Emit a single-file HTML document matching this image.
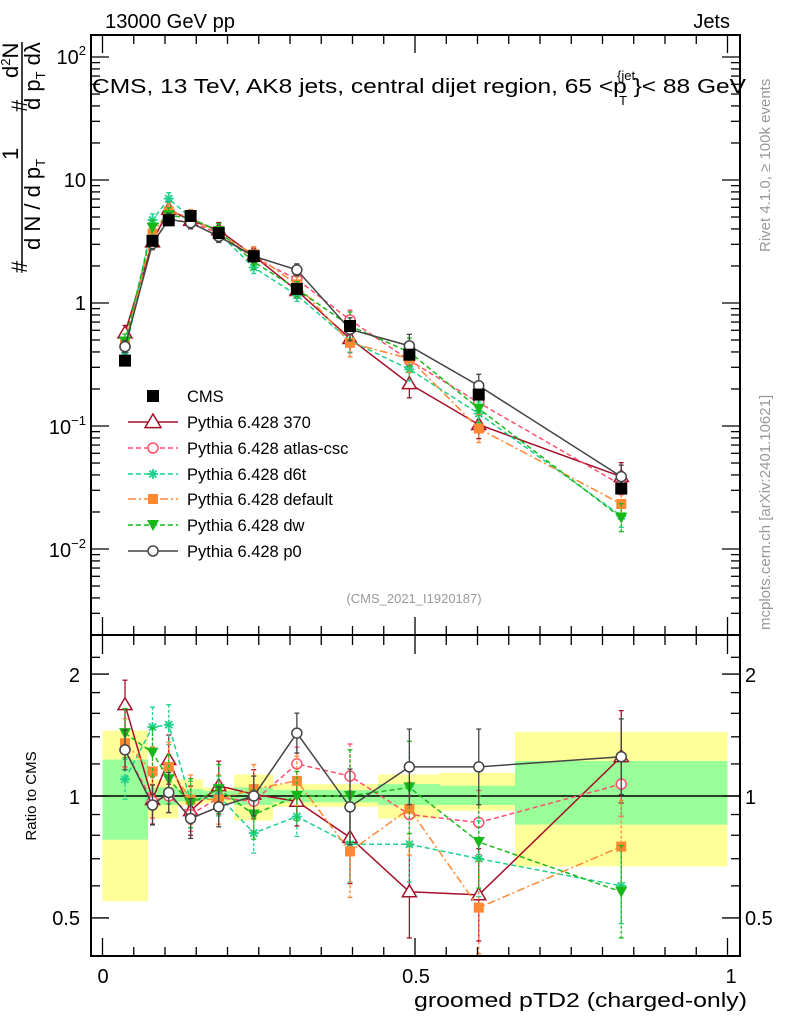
<!DOCTYPE html>
<html><head><meta charset="utf-8"><style>
html,body{margin:0;padding:0;background:#fff}
svg{display:block;font-family:"Liberation Sans",sans-serif}
</style></head><body>
<svg id="s" width="786" height="1024" xmlns="http://www.w3.org/2000/svg">
<rect width="786" height="1024" fill="#fff"/>
<g id="bands"></g>
<g id="plot"></g>
<g id="axes" stroke="#000" fill="none" stroke-width="2">
<rect x="91" y="35" width="649" height="600"/>
<rect x="91" y="635" width="649" height="321"/>
</g>
<g id="ticks" stroke="#000" stroke-width="1.3"></g>
<text x="105" y="28" font-size="20" textLength="130" lengthAdjust="spacingAndGlyphs">13000 GeV pp</text>
<text x="730" y="28" font-size="20" text-anchor="end">Jets</text>
<text x="92" y="93" font-size="20" textLength="654" lengthAdjust="spacingAndGlyphs">CMS, 13 TeV, AK8 jets, central dijet region, 65 &lt;p  }&lt; 88 GeV</text>
<text x="617" y="80" font-size="13">{jet</text>
<text x="619" y="105" font-size="13">T</text>
<text x="414" y="603" font-size="13" fill="#999" text-anchor="middle">(CMS_2021_I1920187)</text>
<g font-size="20" text-anchor="end">
<text x="86" y="64">10<tspan font-size="13" dy="-9">2</tspan></text>
<text x="86" y="187">10</text>
<text x="86" y="310">1</text>
<text x="86" y="434">10<tspan font-size="13" dy="-9">−1</tspan></text>
<text x="86" y="557">10<tspan font-size="13" dy="-9">−2</tspan></text>
<text x="80" y="682">2</text>
<text x="80" y="804">1</text>
<text x="80" y="925">0.5</text>
</g>
<g font-size="20">
<text x="745" y="682">2</text>
<text x="745" y="804">1</text>
<text x="745" y="925">0.5</text>
</g>
<g font-size="20" text-anchor="middle">
<text x="103" y="983">0</text>
<text x="416" y="983">0.5</text>
<text x="731" y="983">1</text>
</g>
<text x="747" y="1007" font-size="20" text-anchor="end" textLength="333" lengthAdjust="spacingAndGlyphs">groomed pTD2 (charged-only)</text>
<text transform="translate(36,796) rotate(-90)" font-size="15" text-anchor="middle">Ratio to CMS</text>
<text transform="translate(770,252) rotate(-90)" font-size="15" fill="#999">Rivet 4.1.0, ≥ 100k events</text>
<text transform="translate(770,630) rotate(-90)" font-size="15" fill="#999">mcplots.cern.ch [arXiv:2401.10621]</text>
<g transform="rotate(-90)" font-size="22">
<line x1="-268" y1="22" x2="-42" y2="22" stroke="#000" stroke-width="1.5"/>
<text x="-273" y="27">#</text>
<text x="-160" y="18">1</text>
<text x="-112" y="27">#</text>
<text x="-78" y="18">d<tspan font-size="13" dy="-8">2</tspan><tspan dy="8">N</tspan></text>
<text x="-250" y="40">d N / d p<tspan font-size="13" dy="5">T</tspan></text>
<text x="-110" y="40">d p<tspan font-size="13" dy="5">T</tspan><tspan dy="-5"> dλ</tspan></text>
</g>
<g id="legend" font-size="16.5"></g>
</svg>
<script>
const NS="http://www.w3.org/2000/svg";
function el(p,t,a){const e=document.createElementNS(NS,t);for(const k in a)e.setAttribute(k,a[k]);p.appendChild(e);return e;}
const X=v=>102.5+625*v, YM=v=>303-123*Math.log10(v), YR=r=>796-405*Math.log10(r);
const xs=[0.036,0.08,0.106,0.141,0.186,0.242,0.311,0.396,0.491,0.602,0.83];
const cms=[0.34,3.2,4.7,5.1,3.7,2.4,1.3,0.65,0.38,0.18,0.031];
const edges=[102.5,148,178,203,234,273,378,440,515,727.5];
const yel=[[0.55,1.45],[0.88,1.10],[0.95,1.10],[0.96,1.05],[0.87,1.13],[0.94,1.07],[0.88,1.13],[0.92,1.14],[0.67,1.44]];
const grn=[[0.78,1.23],[0.95,1.05],[0.97,1.04],[0.98,1.03],[0.95,1.05],[0.965,1.035],[0.95,1.07],[0.95,1.06],[0.85,1.22]];
const B=document.getElementById('bands');
for(let i=0;i<yel.length;i++){const x1=edges[i],x2=edges[i+1];
el(B,'rect',{x:x1,y:YR(yel[i][1]),width:x2-x1,height:YR(yel[i][0])-YR(yel[i][1]),fill:'#ffff99'});
el(B,'rect',{x:x1,y:YR(grn[i][1]),width:x2-x1,height:YR(grn[i][0])-YR(grn[i][1]),fill:'#99ff99'});}
el(B,'line',{x1:91,x2:740,y1:796,y2:796,stroke:'#000','stroke-width':1.5});
const S=[
{c:'#a50f2a',d:'',m:'tri',r:[1.68,0.98,1.23,0.92,1.06,1.01,0.97,0.79,0.58,0.57,1.25],e:0.15,n:'Pythia 6.428 370'},
{c:'#ff4d6d',d:'5,3',m:'circ',r:[1.3,0.97,1.0,0.9,0.99,0.97,1.2,1.12,0.9,0.86,1.07],e:0.1,n:'Pythia 6.428 atlas-csc'},
{c:'#1ed18a',d:'5,3',m:'star',r:[1.1,1.48,1.5,0.97,1.0,0.81,0.89,0.76,0.76,0.7,0.6],e:0.12,n:'Pythia 6.428 d6t'},
{c:'#ff8833',d:'8,3,2,3',m:'sq',r:[1.35,1.15,1.18,0.98,0.98,1.04,1.09,0.73,0.93,0.53,0.75],e:0.15,n:'Pythia 6.428 default'},
{c:'#18b818',d:'5,3',m:'tdn',r:[1.43,1.28,1.1,0.96,1.04,0.9,1.0,1.0,1.05,0.77,0.58],e:0.15,n:'Pythia 6.428 dw'},
{c:'#444',d:'',m:'circ',r:[1.3,0.95,1.02,0.88,0.94,1.0,1.43,0.94,1.18,1.18,1.25],e:0.12,n:'Pythia 6.428 p0'}];
const P=document.getElementById('plot');
function mark(g,m,x,y,c,big){
 if(m=='tri'){const s=big?8:7;el(g,'polygon',{points:`${x},${y-s} ${x-s},${y+s*0.7} ${x+s},${y+s*0.7}`,fill:'#fff',stroke:c,'stroke-width':1.5});}
 else if(m=='circ')el(g,'circle',{cx:x,cy:y,r:5,fill:'#fff',stroke:c,'stroke-width':1.5});
 else if(m=='sq')el(g,'rect',{x:x-5,y:y-5,width:10,height:10,fill:c});
 else if(m=='sqk')el(g,'rect',{x:x-6,y:y-6,width:12,height:12,fill:c});
 else if(m=='tdn')el(g,'polygon',{points:`${x-6},${y-5} ${x+6},${y-5} ${x},${y+6}`,fill:c});
 else if(m=='star'){for(const a of [0,45,90,135]){const r=a*Math.PI/180;el(g,'line',{x1:x-5*Math.cos(r),y1:y-5*Math.sin(r),x2:x+5*Math.cos(r),y2:y+5*Math.sin(r),stroke:c,'stroke-width':1.8});}}
}
for(const s of S){
 for(const [Yf,vals] of [[YM,s.r.map((r,i)=>r*cms[i])],[YR,s.r]]){
  const pts=xs.map((x,i)=>[X(x),Yf(vals[i])]);
  el(P,'polyline',{points:pts.map(p=>p.join(',')).join(' '),fill:'none',stroke:s.c,'stroke-width':1.5,'stroke-dasharray':s.d});
  xs.forEach((x,i)=>{const f=1+s.e*(i>6?2:1);const y1=Yf(vals[i]*f),y2=Yf(vals[i]/f);
   el(P,'line',{x1:X(x),x2:X(x),y1:y1,y2:y2,stroke:s.c,'stroke-width':1.3,'stroke-dasharray':s.d?'3,2':''});
   el(P,'line',{x1:X(x)-2.5,x2:X(x)+2.5,y1:y1,y2:y1,stroke:s.c,'stroke-width':1.3});
   el(P,'line',{x1:X(x)-2.5,x2:X(x)+2.5,y1:y2,y2:y2,stroke:s.c,'stroke-width':1.3});
   mark(P,s.m,X(x),Yf(vals[i]),s.c,false);});
 }
}
xs.forEach((x,i)=>{el(P,'line',{x1:X(x),x2:X(x),y1:YM(cms[i]*1.1),y2:YM(cms[i]/1.1),stroke:'#000','stroke-width':1.3});mark(P,'sqk',X(x),YM(cms[i]),'#000');});
const L=document.getElementById('legend');
const ly=[396,422,448,474,499,525,551];
mark(L,'sqk',153,ly[0],'#000');el(L,'text',{x:187,y:ly[0]+6}).textContent='CMS';
S.forEach((s,i)=>{const y=ly[i+1];el(L,'line',{x1:128,x2:178,y1:y,y2:y,stroke:s.c,'stroke-width':1.5,'stroke-dasharray':s.d});
 mark(L,s.m,153,y,s.c,true);el(L,'text',{x:187,y:y+6}).textContent=s.n;});
const T=document.getElementById('ticks');
function tk(x1,y1,x2,y2){el(T,'line',{x1,y1,x2,y2});}
for(let d=-3;d<=2;d++)for(let k=1;k<10;k++){const y=YM(k*Math.pow(10,d));if(y<36||y>634)continue;const L=k==1?18:9;tk(91,y,91+L,y);tk(740,y,740-L,y);}
for(const r of [0.4,0.5,0.6,0.7,0.8,0.9,1,1.2,1.4,1.6,1.8,2,2.2]){const y=YR(r);if(y<637||y>954)continue;const L=(r==0.5||r==1||r==2)?18:9;tk(91,y,91+L,y);tk(740,y,740-L,y);}
for(let i=0;i<=20;i++){const x=X(i*0.05);const L=i%10==0?18:9;tk(x,35,x,35+L);tk(x,635,x,635-L);tk(x,636,x,636+L);tk(x,956,x,956-L);}
</script>
</body></html>
